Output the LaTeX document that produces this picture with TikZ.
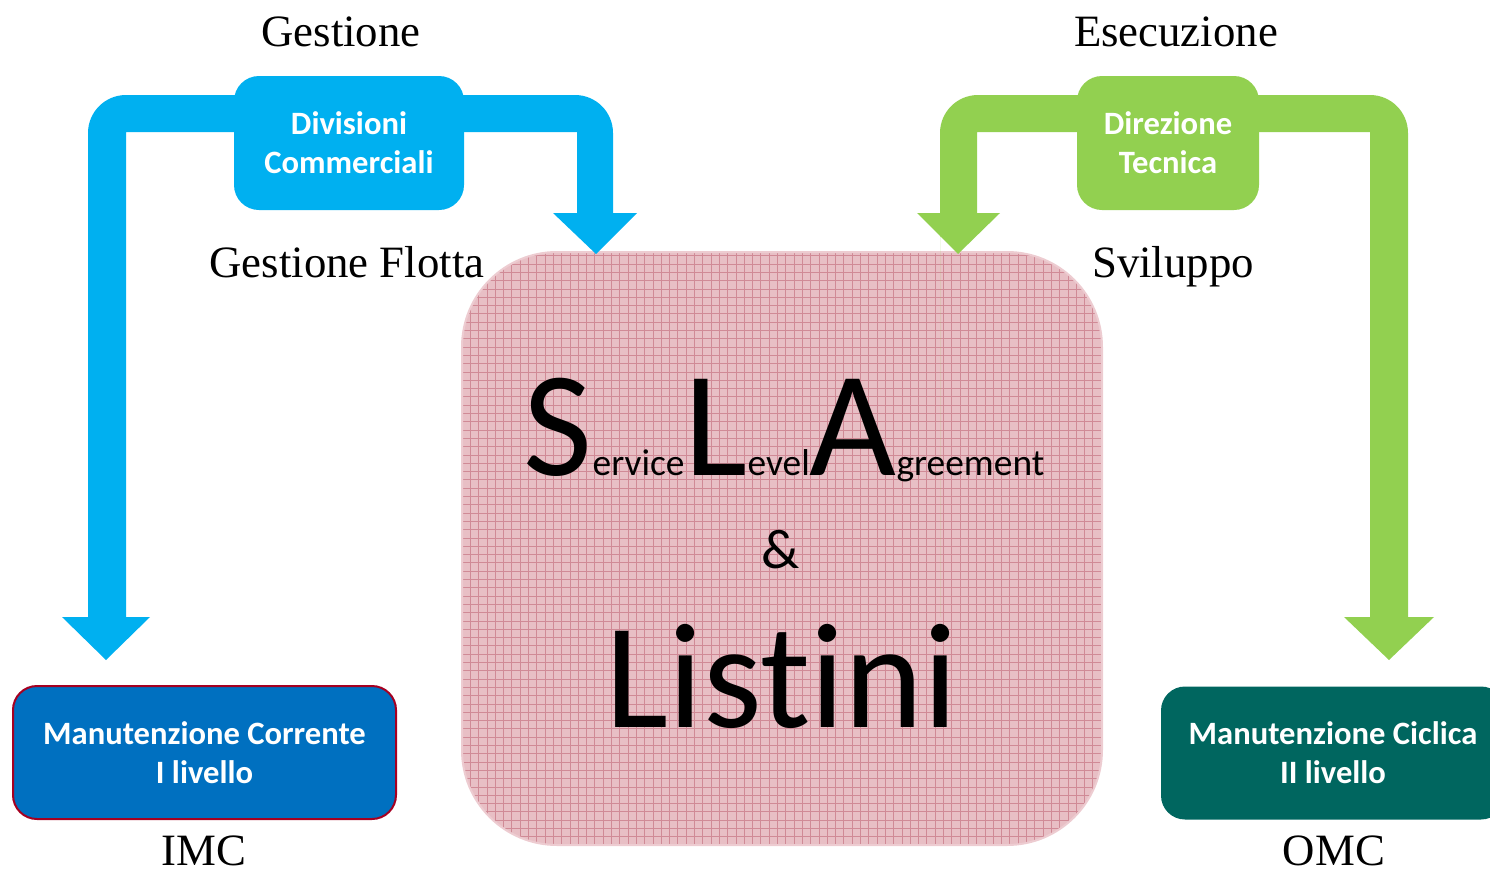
\documentclass[tikz,border=0pt]{standalone}
\usepackage{fontspec}
\setmainfont{Liberation Serif}
\newfontfamily\carlito[Ligatures={NoCommon}]{Carlito}
\definecolor{cblue}{HTML}{00B0F0}
\definecolor{cgreen}{HTML}{92D050}
\definecolor{cdblue}{HTML}{0070C0}
\definecolor{cteal}{HTML}{00665F}
\definecolor{cred}{HTML}{A50021}
\definecolor{cpink}{HTML}{E8BFC5}
\definecolor{cgrid}{HTML}{D08A96}
\tikzset{
  band/.style={fill=#1, draw=none},
  topbox/.style={rounded corners=12.5pt, fill=#1, text=white, align=center,
     font=\carlito\bfseries\fontsize{16.3}{19.5}\selectfont, inner sep=0pt},
  lowbox/.style={rounded corners=12pt, fill=#1, text=white, align=center,
     font=\carlito\bfseries\fontsize{16.3}{19.5}\selectfont, inner sep=0pt,
     minimum height=66.5pt},
  lab/.style={font=\fontsize{22.4}{26}\selectfont, anchor=base, inner sep=0pt},
  gridline/.style={draw=cgrid, line width=0.4pt},
}
\begin{document}
\begin{tikzpicture}[x=0.5pt,y=-0.5pt]
\useasboundingbox (0,0) rectangle (1490,873);
% centre box
\node (sla) [rounded corners=47.5pt, fill=cpink, draw=cpink!80!white, line width=1pt,
  minimum width=320pt, minimum height=296.5pt, inner sep=0pt,
  path picture={
    \foreach \i in {0,...,80}
      \draw[gridline] ([xshift=\i*4.15pt]path picture bounding box.south west) -- ([xshift=\i*4.15pt]path picture bounding box.north west);
    \foreach \j in {0,...,75}
      \draw[gridline] ([yshift=\j*4.15pt]path picture bounding box.south west) -- ([yshift=\j*4.15pt]path picture bounding box.south east);
  }] at (782,548.5) {};
% blue band
\fill[band=cblue] (106,660) -- (150,617) -- (126,617) -- (126,132) -- (577,132) -- (577,213)
  -- (553,213) -- (596,254) -- (637,213) -- (613,213) -- (613,133)
  arc[start angle=0, end angle=-90, radius=38] -- (126,95)
  arc[start angle=270, end angle=180, radius=38] -- (88,617) -- (62,617) -- cycle;
% green band
\fill[band=cgreen] (958,254) -- (1000,213) -- (977,213) -- (977,132) -- (1370,132) -- (1370,617)
  -- (1344,617) -- (1389,660) -- (1434,617) -- (1408,617) -- (1408,133)
  arc[start angle=0, end angle=-90, radius=38] -- (978,95)
  arc[start angle=270, end angle=180, radius=38] -- (940,617) -- (940,213) -- (917,213) -- cycle;
% top boxes
\node (div) [topbox=cblue, minimum width=115pt, minimum height=67pt] at (349,143) {Divisioni\\Commerciali};
\node (dir) [topbox=cgreen, minimum width=91pt, minimum height=67pt] at (1168,143) {Direzione\\Tecnica};
% lower boxes
\node (imc) [lowbox=cdblue, draw=cred, line width=1pt, minimum width=191.5pt] at (204.5,752.5) {Manutenzione Corrente\\I livello};
\node (omc) [lowbox=cteal, minimum width=172pt] at (1333,753) {Manutenzione Ciclica\\II livello};
% labels
\node (l1) [lab] at (341,46) {Gestione};
\node (l2) [lab] at (1176,46) {Esecuzione};
\node (l3) [lab] at (347,277) {Gestione Flotta};
\node (l4) [lab] at (1173,277) {Sviluppo};
\node (l5) [lab] at (204,865) {IMC};
\node (l6) [lab] at (1334,865) {OMC};
% centre text
\node (t1) [anchor=base, inner sep=0pt, font=\carlito] at (784,475)
  {{\fontsize{75}{75}\selectfont S}{\fontsize{18.7}{20}\selectfont ervice}{\fontsize{75}{75}\selectfont L}{\fontsize{18.7}{20}\selectfont evel}{\fontsize{75}{75}\selectfont A}{\fontsize{18.7}{20}\selectfont greement}};
\node (t2) [anchor=base, inner sep=0pt, font=\carlito\fontsize{28}{30}\selectfont] at (781,568) {\&};
\node (t3) [anchor=base, inner sep=0pt, font=\carlito\fontsize{75}{75}\selectfont] at (782,727) {Listini};
\end{tikzpicture}
\end{document}
